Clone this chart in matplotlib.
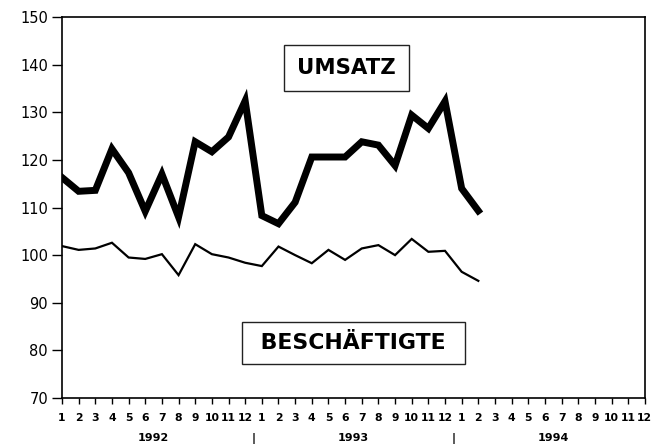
import matplotlib
matplotlib.use("Agg")
import matplotlib.pyplot as plt

plt.rcParams['font.family'] = ['DejaVu Sans']

# Monate Jan 1992 .. Dez 1994 (Daten bis Feb 1994)
monate = [str(m) for m in range(1, 13)] * 3
jahre = ['1992', '1993', '1994']

umsatz = [116.3, 113.4, 113.6, 122.3, 117.3, 109.2, 117.0, 108.0, 123.8, 121.7,
          124.8, 132.4, 108.3, 106.6, 111.1, 120.6, 120.6, 120.6, 123.8, 123.1,
          118.8, 129.4, 126.6, 132.3, 114.0, 109.3]
beschaeftigte = [101.9, 101.1, 101.4, 102.6, 99.5, 99.2, 100.2, 95.8, 102.3, 100.2,
                 99.5, 98.4, 97.7, 101.8, 100.0, 98.3, 101.1, 99.0, 101.4, 102.1,
                 100.0, 103.4, 100.7, 100.9, 96.5, 94.6]

fig = plt.figure(figsize=(6.56, 4.46), dpi=100)
ax = fig.add_axes([0.0945, 0.1076, 0.8885, 0.8543])

x1 = list(range(len(umsatz)))
ax.plot(x1, umsatz, color='black', lw=5, solid_joinstyle='miter')
ax.plot(x1, beschaeftigte, color='black', lw=1.6, solid_joinstyle='miter')

ax.set_xlim(0, 35)
ax.set_ylim(70, 150)
ax.set_yticks(range(70, 151, 10))
ax.set_xticks(range(36))
ax.set_xticklabels(monate, fontsize=7.8, fontweight='bold')
ax.tick_params(axis='x', direction='out', length=4.5, width=1, pad=6.5)
ax.tick_params(axis='y', direction='out', length=7, width=1, pad=3, labelsize=10.5)

for s in ax.spines.values():
    s.set_linewidth(1.2)

# Jahresbeschriftung und Trennstriche
for i, j in enumerate(jahre):
    ax.text(5.5 + 12 * i, -0.105, j, transform=ax.get_xaxis_transform(),
            ha='center', va='center', fontsize=8, fontweight='bold')
for i in range(1, 3):
    ax.text(12 * i - 0.5, -0.105, '|', transform=ax.get_xaxis_transform(),
            ha='center', va='center', fontsize=8, fontweight='bold')

box = dict(boxstyle='square,pad=0.62', facecolor='white', edgecolor='#222222', lw=1)
ax.text(17.07, 137.97, 'UMSATZ', ha='center', va='baseline', fontsize=15.3,
        fontweight='bold', bbox=box)
box2 = dict(boxstyle='square,pad=0.5', facecolor='white', edgecolor='#222222', lw=1)
ax.text(17.5, 80.2, ' BESCHÄFTIGTE ', ha='center', va='baseline', fontsize=15.8,
        fontweight='bold', bbox=box2)

fig.savefig('out.png', dpi=100)
